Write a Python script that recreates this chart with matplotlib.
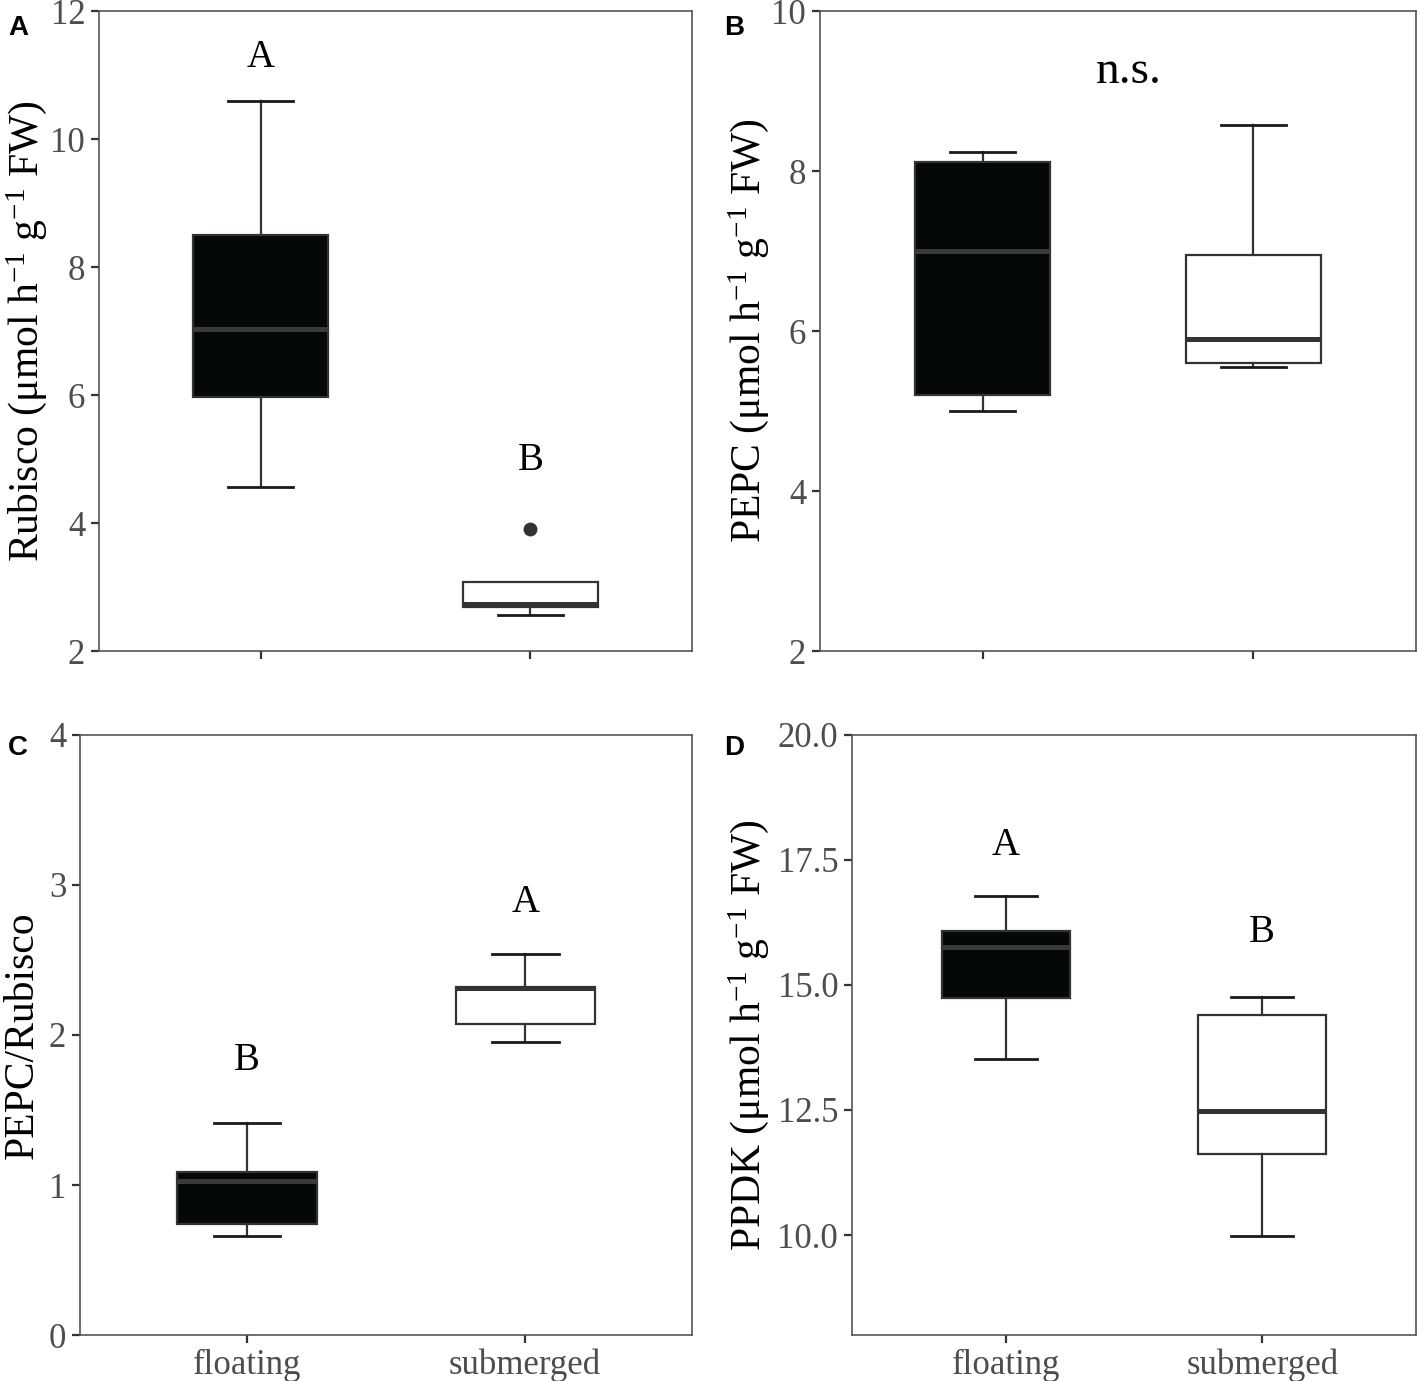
import matplotlib
matplotlib.use("Agg")
import matplotlib.pyplot as plt

plt.rcParams['font.family'] = ['Liberation Serif', 'DejaVu Serif']
plt.rcParams['mathtext.fontset'] = 'custom'
plt.rcParams['mathtext.rm'] = 'Liberation Serif'
plt.rcParams['mathtext.it'] = 'Liberation Serif:italic'

groups = ["floating", "submerged"]

# box stats: whislo, q1, median, q3, whishi
rubisco_stats = [(4.56, 5.97, 7.03, 8.50, 10.59), (2.56, 2.69, 2.74, 3.08, 3.08)]
rubisco_fliers = [[], [3.90]]
pepc_stats = [(5.00, 5.20, 7.00, 8.11, 8.24), (5.55, 5.60, 5.90, 6.95, 8.58)]
ratio_stats = [(0.66, 0.74, 1.03, 1.09, 1.41), (1.95, 2.07, 2.31, 2.32, 2.54)]
ppdk_stats = [(13.51, 14.73, 15.75, 16.07, 16.77), (9.98, 11.62, 12.48, 14.39, 14.75)]

rubisco_letters = [("A", 1, 11.27, 28), ("B", 2, 4.97, 28)]
pepc_letters = [("n.s.", 1.54, 9.24, 34)]
ratio_letters = [("B", 1, 1.83, 28), ("A", 2, 2.88, 28)]
ppdk_letters = [("A", 1, 17.78, 28), ("B", 2, 16.05, 28)]

fills = ["#050808", "white"]
median_colors = ["#3a3a3a", "#333333"]
edge = "#333333"


def draw_panel(ax, stats, fliers, letters, ylim, yticks, yticklabels, ylabel, show_x):
    bxp = []
    for i, (lo, q1, med, q3, hi) in enumerate(stats):
        bxp.append(dict(whislo=lo, q1=q1, med=med, q3=q3, whishi=hi,
                        fliers=fliers[i] if fliers else []))
    res = ax.bxp(bxp, positions=[1, 2], widths=0.5, capwidths=0.24,
                 patch_artist=True, showfliers=True,
                 boxprops=dict(edgecolor=edge, linewidth=1.6),
                 whiskerprops=dict(color=edge, linewidth=1.6),
                 capprops=dict(color="#1a1a1a", linewidth=2.0),
                 flierprops=dict(marker="o", markerfacecolor=edge, markeredgecolor=edge,
                                 markersize=9))
    for patch, fc in zip(res["boxes"], fills):
        patch.set_facecolor(fc)
    for line, mc in zip(res["medians"], median_colors):
        line.set_color(mc)
        line.set_linewidth(3.6)
        line.set_solid_capstyle("butt")
    # caps that coincide with the box edge are hidden in the original
    for i, (lo, q1, med, q3, hi) in enumerate(stats):
        if hi <= q3:
            res["caps"][2 * i + 1].set_visible(False)

    for txt, x, y, fs in letters:
        ax.text(x, y, txt, ha="center", va="center", fontsize=fs, color="black")

    ax.set_xlim(0.4, 2.6)
    ax.set_ylim(*ylim)
    ax.set_yticks(yticks)
    ax.set_yticklabels(yticklabels)
    ax.set_xticks([1, 2])
    if show_x:
        ax.set_xticklabels(groups)
    else:
        ax.set_xticklabels([])
    ax.tick_params(axis="both", labelsize=25, labelcolor="#4d4d4d", color="#333333",
                   length=6, width=1.6, pad=4)
    for sp in ax.spines.values():
        sp.set_color("#555555")
        sp.set_linewidth(1.2)
    ax.set_ylabel(ylabel, fontsize=30, color="black")


fig = plt.figure(figsize=(14.17, 13.81), dpi=100)

ax_a = fig.add_axes([0.0699, 0.5286, 0.4185, 0.4634])
ax_b = fig.add_axes([0.5787, 0.5286, 0.4206, 0.4634])
ax_c = fig.add_axes([0.0565, 0.0333, 0.4319, 0.4345])
ax_d = fig.add_axes([0.6013, 0.0333, 0.3980, 0.4345])

unit = "(\u03bcmol h$^{-1}$ g$^{-1}$ FW)"

draw_panel(ax_a, rubisco_stats, rubisco_fliers, rubisco_letters, (2, 12),
           [2, 4, 6, 8, 10, 12], ["2", "4", "6", "8", "10", "12"],
           "Rubisco " + unit, False)
draw_panel(ax_b, pepc_stats, None, pepc_letters, (2, 10),
           [2, 4, 6, 8, 10], ["2", "4", "6", "8", "10"],
           "PEPC " + unit, False)
draw_panel(ax_c, ratio_stats, None, ratio_letters, (0, 4),
           [0, 1, 2, 3, 4], ["0", "1", "2", "3", "4"],
           "PEPC/Rubisco", True)
draw_panel(ax_d, ppdk_stats, None, ppdk_letters, (8, 20),
           [10, 12.5, 15, 17.5, 20], ["10.0", "12.5", "15.0", "17.5", "20.0"],
           "PPDK " + unit, True)

ax_a.yaxis.set_label_coords(-0.084, 0.5)
ax_b.yaxis.set_label_coords(-0.082, 0.5)
ax_c.yaxis.set_label_coords(-0.062, 0.5)
ax_d.yaxis.set_label_coords(-0.143, 0.5)

for lbl, x, y in [("A", 18, 28), ("B", 734, 28), ("C", 18, 748), ("D", 734, 748)]:
    fig.text(x / 1417, 1 - y / 1381, lbl, ha="center", va="center",
             fontsize=20, fontweight="bold", family="Liberation Sans")

fig.savefig("out.png", dpi=100)
